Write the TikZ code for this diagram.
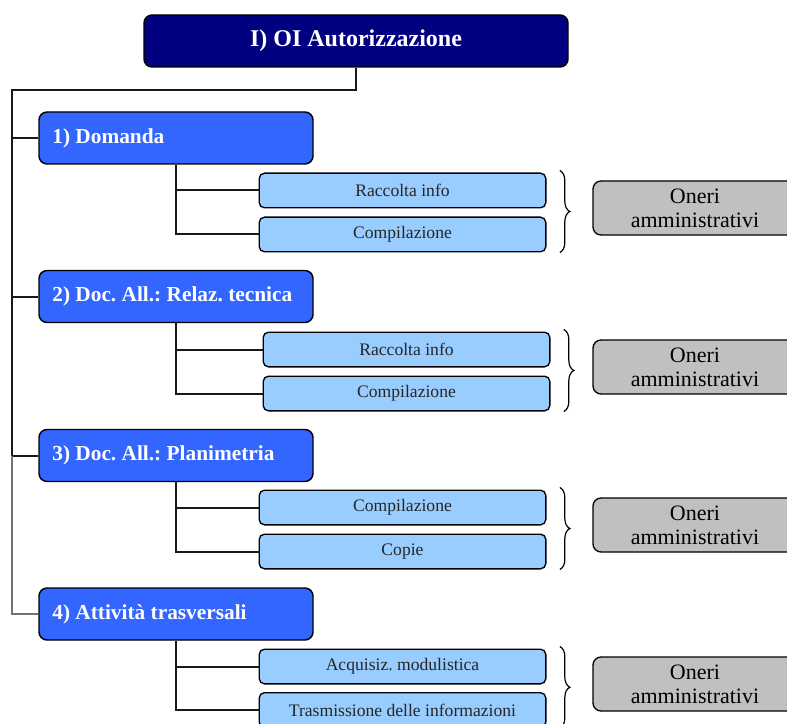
\documentclass[tikz,border=0pt]{standalone}
\usepackage{fontspec}
\setmainfont{Liberation Serif}
\usetikzlibrary{decorations.pathreplacing}
\definecolor{navy}{RGB}{0,0,128}
\definecolor{azzurro}{RGB}{51,102,255}
\definecolor{celeste}{RGB}{153,204,255}
\definecolor{grigio}{RGB}{192,192,192}
\frenchspacing
\tikzset{
  titolo/.style={draw=black,line width=1.1pt,fill=navy,rounded corners=6pt,
    minimum width=318pt,minimum height=39pt,text=white,
    font=\fontsize{18}{20}\selectfont\bfseries},
  fase/.style={draw=black,line width=1.1pt,fill=azzurro,rounded corners=6pt,
    minimum width=205.5pt,minimum height=39pt,text=white,
    font=\fontsize{16}{18}\selectfont\bfseries},
  attivita/.style={draw=black,line width=1pt,fill=celeste,rounded corners=4pt,
    minimum width=215pt,minimum height=26pt,text=black!85,
    font=\fontsize{13.2}{15}\selectfont},
  oneri/.style={draw=black,line width=1pt,fill=grigio,rounded corners=6pt,
    minimum width=153pt,minimum height=40.5pt,align=center,inner sep=1pt,
    font=\fontsize{16.5}{18}\selectfont},
  conn/.style={line width=1.5pt,black!90},
  graffa/.style={decorate,decoration={brace,amplitude=7.5pt},line width=0.9pt}
}
\begin{document}
\begin{tikzpicture}[x=0.75pt,y=-0.75pt]
    \useasboundingbox (0,0) rectangle (787,723);
    \clip (0,0) rectangle (787,723);
    \node[titolo] (top) at (356,41) {I) OI Autorizzazione};
    \coordinate (tr) at (12,90);
    \foreach \i/\ly/\sx/\sa/\sb/\oy/\txt/\la/\lb in {%
        1/138/402.5/190.5/234.5/208/{1) Domanda}/{Raccolta info}/{Compilazione},
        2/296.5/406.5/349.5/393.5/367/{2) Doc. All.: Relaz. tecnica}/{Raccolta info}/{Compilazione},
        3/455.5/402.5/507.5/551.5/525/{3) Doc. All.: Planimetria}/{Compilazione}/{Copie},
        4/614/402.5/666.5/710/684/{4) Attività trasversali}/{Acquisiz. modulistica}/{Trasmissione delle informazioni}}{%
        \node[fase] (lv\i) at (176,\ly) {\makebox[185.5pt][l]{\txt}};
        \node[attivita] (sa\i) at (\sx,\sa) {\la};
        \node[attivita] (sb\i) at (\sx,\sb) {\lb};
        \draw[conn] (lv\i.south) |- (sa\i.west);
        \draw[conn] (lv\i.south) |- (sb\i.west);
        \draw[graffa] ([xshift=10pt,yshift=1.5pt]sa\i.north east) -- ([xshift=10pt]sb\i.south east);
        \node[oneri] (on\i) at (695,\oy) {Oneri\\amministrativi};
    }
    \draw[conn] (top.south) |- (tr) |- (lv3.west);
    \draw[conn,black!55] (tr |- lv3.west) |- (lv4.west);
    \draw[conn] (tr |- lv1.west) -- (lv1.west);
    \draw[conn] (tr |- lv2.west) -- (lv2.west);
\end{tikzpicture}
\end{document}
